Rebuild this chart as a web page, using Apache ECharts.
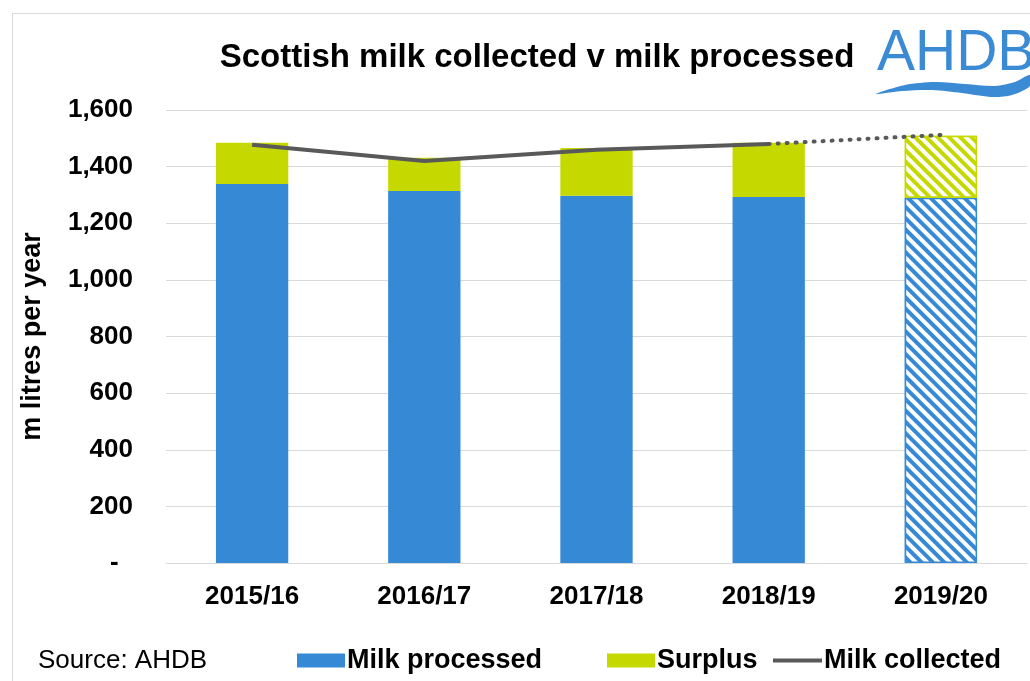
<!DOCTYPE html>
<html>
<head>
<meta charset="utf-8">
<script src="https://cdn.jsdelivr.net/npm/echarts@6/dist/echarts.min.js"></script>
<style>html,body{margin:0;padding:0;background:#fff;}#c{width:1030px;height:681px;}</style>
</head>
<body>
<div id="c"></div>
<script>
const categories = ['2015/16', '2016/17', '2017/18', '2018/19', '2019/20'];
const milkProcessed = [1339, 1314, 1297, 1293, 1290];
const surplus = [145, 117, 169, 191, 219];
const milkCollected = [1477, 1420, 1460, 1480, null];
const milkCollectedForecast = [null, null, null, 1480, 1512];
const yTicks = [0, 200, 400, 600, 800, 1000, 1200, 1400, 1600];

const BLUE = '#3689d4';
const GREEN = '#c5d900';
const LINE = '#595959';
const FONT = 'Liberation Sans, Arial, sans-serif';

function hatch(color) {
  return {
    color: '#ffffff',
    borderColor: color,
    borderWidth: 1.5,
    decal: {
      symbol: 'rect',
      color: color,
      backgroundColor: '#ffffff',
      dashArrayX: [1, 0],
      dashArrayY: [3.5, 4],
      rotation: Math.PI / 4,
      symbolSize: 1
    }
  };
}

const processedData = milkProcessed.map((v, i) => i === 4 ? { value: v, itemStyle: hatch(BLUE) } : v);
const surplusData = surplus.map((v, i) => i === 4 ? { value: v, itemStyle: hatch(GREEN) } : v);

const legendText = { fontSize: 27, fontWeight: 'bold', color: '#000', padding: [0, 0, 0, -3], fontFamily: FONT };

const chart = echarts.init(document.getElementById('c'));
chart.setOption({
  animation: false,
  textStyle: { fontFamily: FONT },
  title: {
    text: 'Scottish milk collected v milk processed',
    left: 537, top: 41, textAlign: 'center', padding: 0,
    textStyle: { fontSize: 33, fontWeight: 'bold', color: '#000', fontFamily: FONT }
  },
  grid: { left: 166, right: 3, top: 110, bottom: 118, containLabel: false },
  legend: [
    {
      data: [{ name: 'Milk processed', icon: 'rect' }],
      left: 297, top: 647, padding: 0, itemWidth: 48, itemHeight: 14, itemGap: 0,
      textStyle: legendText
    },
    {
      data: [{ name: 'Surplus', icon: 'rect' }],
      left: 607, top: 647, padding: 0, itemWidth: 48, itemHeight: 14, itemGap: 0,
      textStyle: legendText
    },
    {
      data: [{ name: 'Milk collected', icon: 'rect', itemStyle: { color: LINE } }],
      left: 773, top: 647, padding: 0, itemWidth: 49, itemHeight: 4, itemGap: 0,
      textStyle: legendText
    }
  ],
  xAxis: {
    type: 'category',
    data: categories,
    axisLine: { show: true, lineStyle: { color: '#d9d9d9', width: 1 } },
    axisTick: { show: false },
    axisLabel: { fontSize: 26, fontWeight: 'bold', color: '#000', margin: 21 }
  },
  yAxis: {
    type: 'value',
    min: 0, max: 1600, interval: 200,
    name: 'm litres per year',
    nameLocation: 'middle',
    nameGap: 120,
    nameRotate: 90,
    nameTextStyle: { fontSize: 27, fontWeight: 'bold', color: '#000' },
    axisLine: { show: false },
    axisTick: { show: false },
    splitLine: { lineStyle: { color: '#d9d9d9', width: 1 } },
    axisLabel: {
      fontSize: 26, fontWeight: 'bold', color: '#000', margin: 33,
      formatter: v => yTicks.includes(v) ? (v === 0 ? '-  ' : v.toLocaleString('en-US')) : ''
    }
  },
  series: [
    {
      name: 'Milk processed', type: 'bar', stack: 'total', data: processedData,
      barWidth: '42%', itemStyle: { color: BLUE }
    },
    {
      name: 'Surplus', type: 'bar', stack: 'total', data: surplusData,
      barWidth: '42%', itemStyle: { color: GREEN }
    },
    {
      name: 'Milk collected', type: 'line', data: milkCollected,
      symbol: 'none', lineStyle: { color: LINE, width: 4 }, itemStyle: { color: LINE }, z: 5
    },
    {
      name: 'Milk collected forecast', type: 'line', data: milkCollectedForecast,
      symbol: 'none', lineStyle: { color: LINE, width: 4, type: [1, 8], cap: 'round' }, z: 5
    }
  ],
  graphic: [
    { type: 'line', shape: { x1: 12.5, y1: 13, x2: 12.5, y2: 681 }, style: { stroke: '#d9d9d9', lineWidth: 1 } },
    { type: 'line', shape: { x1: 12, y1: 13.5, x2: 1030, y2: 13.5 }, style: { stroke: '#d9d9d9', lineWidth: 1 } },
    {
      type: 'text', x: 38, y: 648,
      style: { text: 'Source: AHDB', fontSize: 26, fontFamily: FONT, fill: '#000' }
    },
    {
      type: 'text', x: 877, y: 26,
      style: { text: 'AHDB', fontSize: 57, fontFamily: 'Liberation Sans Narrow, Liberation Sans, Arial', fill: '#3a8bd4' }
    },
    {
      type: 'polygon',
      shape: {
        points: [[876, 94], [905, 85], [935, 82], [965, 84], [995, 86], [1015, 82], [1030, 75], [1030, 86], [1012, 95], [992, 97], [962, 93], [932, 90], [902, 91]],
        smooth: 0.3
      },
      style: { fill: '#3a8bd4' }
    }
  ]
});
</script>
</body>
</html>
